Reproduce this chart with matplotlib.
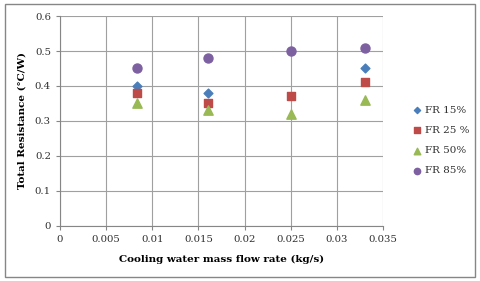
import matplotlib.pyplot as plt
from matplotlib.patches import Rectangle

flow = [0.0083, 0.016, 0.025, 0.033]
fr15_x = [0.0083, 0.016, 0.033]
fr15 = [0.40, 0.38, 0.45]
fr25 = [0.38, 0.35, 0.37, 0.41]
fr50 = [0.35, 0.33, 0.32, 0.36]
fr85 = [0.45, 0.48, 0.50, 0.51]

plt.rcParams['font.family'] = ['DejaVu Serif']

fig = plt.figure(figsize=(4.8, 2.81), dpi=100)
ax = fig.add_axes([0.125, 0.196, 0.673, 0.747])

ax.scatter(fr15_x, fr15, marker='D', s=20, color='#4a7ebb', label='FR 15%', zorder=3)
ax.scatter(flow, fr25, marker='s', s=38, color='#be4b48', label='FR 25 %', zorder=3)
ax.scatter(flow, fr50, marker='^', s=45, color='#98b954', label='FR 50%', zorder=3)
ax.scatter(flow, fr85, marker='o', s=42, color='#7d60a0', label='FR 85%', zorder=3)

ax.set_xlim(0, 0.035)
ax.set_ylim(0, 0.6)
ax.set_xticks([0, 0.005, 0.01, 0.015, 0.02, 0.025, 0.03, 0.035])
ax.set_xticklabels(['0', '0.005', '0.01', '0.015', '0.02', '0.025', '0.03', '0.035'])
ax.set_yticks([0, 0.1, 0.2, 0.3, 0.4, 0.5, 0.6])
ax.set_yticklabels(['0', '0.1', '0.2', '0.3', '0.4', '0.5', '0.6'])
ax.grid(True, color='#a0a0a0', linewidth=0.8)
ax.set_axisbelow(True)
for s in ['top', 'right']:
    ax.spines[s].set_visible(False)
for s in ['left', 'bottom']:
    ax.spines[s].set_color('#868686')
ax.tick_params(labelsize=7.3, colors='#303030', length=3, color='#868686')
ax.set_xlabel('Cooling water mass flow rate (kg/s)', fontsize=7.5, fontweight='bold', labelpad=8)
ax.set_ylabel('Total Resistance (°C/W)', fontsize=7.5, fontweight='bold', labelpad=6)

leg = fig.legend(loc='center left', bbox_to_anchor=(0.848, 0.5), frameon=False, fontsize=7.5,
                 handletextpad=-0.3, labelspacing=1.05, markerscale=0.7,
                 borderaxespad=0, borderpad=0)
for t in leg.get_texts():
    t.set_color('#303030')

fig.patches.append(Rectangle((0.01, 0.015), 0.98, 0.97, transform=fig.transFigure,
                             fill=False, edgecolor='#868686', linewidth=1))

fig.savefig('out.png', dpi=100)
